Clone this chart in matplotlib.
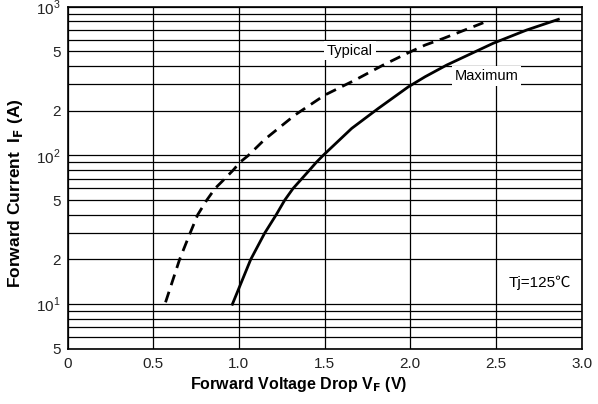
import matplotlib
matplotlib.use("Agg")
import matplotlib.pyplot as plt
from matplotlib.ticker import FixedLocator, FixedFormatter, NullFormatter

plt.rcParams['font.family'] = ['Liberation Sans', 'DejaVu Sans']

# Data
typ_v = [0.572, 0.654, 0.715, 0.76, 0.812, 0.861, 0.919, 0.968, 1.006, 1.055, 1.15,
         1.327, 1.502, 1.677, 1.85, 1.988, 2.086, 2.193, 2.426]
typ_i = [10.3, 20, 30, 40, 50, 60, 70, 80, 90, 100, 128,
         187, 255, 321, 410, 490, 552, 612, 780]
max_v = [0.962, 1.069, 1.15, 1.218, 1.267, 1.316, 1.368, 1.413, 1.452, 1.491,
         1.658, 1.813, 1.988, 2.086, 2.212, 2.484, 2.679, 2.864]
max_i = [10, 20, 30, 40, 50, 60, 70, 80, 90, 100,
         152, 207, 289, 338, 405, 568, 697, 822]

x_ticks = [0, 0.5, 1.0, 1.5, 2.0, 2.5, 3.0]
x_labels = ["0", "0.5", "1.0", "1.5", "2.0", "2.5", "3.0"]
y_ticks = [5, 10, 20, 50, 100, 200, 500, 1000]
y_labels = ["5", r"10$^\mathregular{1}$", "2", "5", r"10$^\mathregular{2}$", "2", "5", r"10$^\mathregular{3}$"]

fig = plt.figure(figsize=(5.98, 4.04), dpi=100)
ax = fig.add_axes([67.5/598, 1-349/404, (581.7-67.5)/598, (349-6.7)/404])

ax.set_yscale('log')
ax.set_xlim(0, 3.0)
ax.set_ylim(5, 1000)

# grid
grid_y = [m * 10**d for d in range(0, 3) for m in range(1, 10)] + [1000]
for gy in grid_y:
    if 5 <= gy <= 1000:
        ax.axhline(gy, color='black', lw=0.9, zorder=1)
for gx in x_ticks:
    ax.axvline(gx, color='black', lw=0.9, zorder=1)

ax.plot(typ_v, typ_i, color='black', lw=2, linestyle=(0, (4, 2.5)), zorder=3,
        solid_joinstyle='round')
ax.plot(max_v, max_i, color='black', lw=2, zorder=3, solid_joinstyle='round')

ax.xaxis.set_major_locator(FixedLocator(x_ticks))
ax.set_xticklabels(x_labels)
ax.yaxis.set_major_locator(FixedLocator(y_ticks))
ax.yaxis.set_major_formatter(FixedFormatter(y_labels))
ax.yaxis.set_minor_locator(FixedLocator([]))
ax.yaxis.set_minor_formatter(NullFormatter())
ax.tick_params(axis='both', length=0, labelsize=11, pad=6, colors='#222222')
ax.tick_params(axis='y', pad=5)
for s in ax.spines.values():
    s.set_linewidth(1.2)

ax.set_xlabel(r"Forward Voltage Drop V$_\mathbf{F}$ (V)", fontsize=11.5, fontweight='bold', labelpad=2)
ax.xaxis.set_label_coords(0.45, -0.075)
ax.set_ylabel(r"Forward Current  I$_\mathbf{F}$ (A)", fontsize=12.5, fontweight='bold', labelpad=6)
ax.yaxis.set_label_coords(-0.082, 0.455)

bbox = dict(facecolor='white', edgecolor='none', pad=2)
ax.text(1.648, 506, "Typical", fontsize=10.5, ha='center', va='center', bbox=bbox, zorder=2)
ax.text(2.446, 342, "Maximum", fontsize=10.5, ha='center', va='center', bbox=bbox, zorder=2)
ax.text(2.94, 14.0, "Tj=125℃", fontsize=11, ha='right', va='center', bbox=bbox, zorder=2,
        family=['Liberation Sans', 'Noto Sans CJK JP', 'DejaVu Sans'])

fig.savefig("out.png", dpi=100)
